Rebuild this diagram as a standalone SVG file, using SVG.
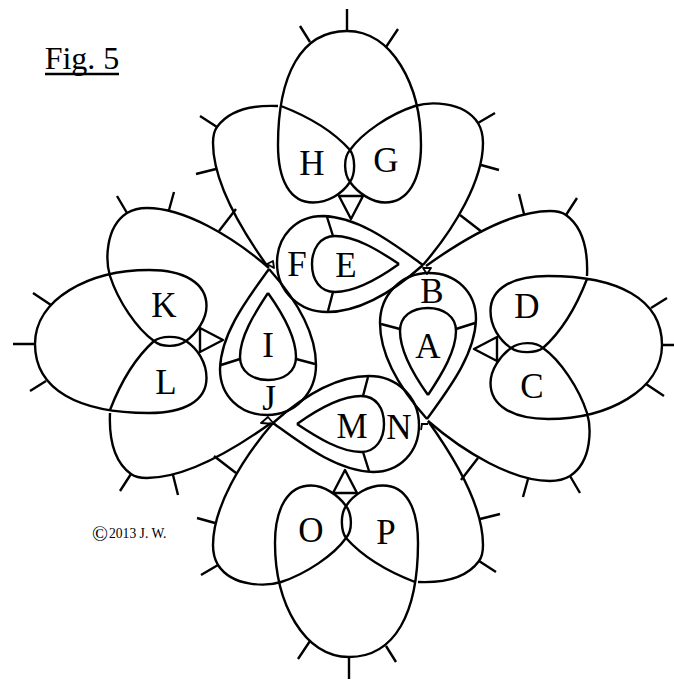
<svg xmlns="http://www.w3.org/2000/svg" width="674" height="680" viewBox="0 0 674 680">
<style>
.l{fill:none;stroke:#000;stroke-width:2.4;stroke-linejoin:round}
text{font-family:"Liberation Serif","Times New Roman",serif;fill:#000;text-anchor:middle;font-size:35px}
</style>
<defs>
<g id="petals" class="l">
<path d="M268,267 C240,228 213,180 213,143 C213,136 214,131 217,127 C230,109 255,105 278,106"/>
<path d="M281,106 C307,116 333,131 350,150 C355,157 356,173 350,182 C342,194 328,202.5 313,202.5 C290,202.5 278,180 278,145 C278,75 301,31 347,31 C392,31 421,85 421,145 C421,180 408,202.5 385,202.5 C372,202.5 358,193 350,182 C344,174 343,158 350,150 C362,133 390,114 415,106 C428,102 463,100 478,123 C481,128 483,135 483,143 C483,180 455,228 423,265"/>
<path d="M347,30V9M310,42L300,26M386,47L398,29M217,127L200,116M216,169L196,174M478,123L495,113M481,165L499,170"/>
</g>
<g id="drop" class="l">
<path d="M423,265 C395,245 360,217 323,216 C296,216 277,236 277,263 C277,292 300,312 327,312 C360,312 395,290 423,265"/>
<path d="M399,264 C378,250 355,236 335,236 C320,236 312,249 312,264 C312,280 320,292 335,292 C355,292 378,279 399,264"/>
<path d="M327,217L333,236M333,292L328,311"/>
</g>
<path id="tri" class="l" d="M339,196H363L351,219Z"/>
<path id="bar" class="l" d="M460,215L482,232"/>
</defs>
<rect width="674" height="680" fill="#fff"/>
<g id="connectors">
<use href="#tri"/>
<use href="#tri" transform="translate(1,2) rotate(90 348 344)"/>
<use href="#tri" transform="translate(0,1) rotate(180 348 344)"/>
<use href="#tri" transform="translate(0,-1) rotate(270 348 344)"/>
<use href="#bar"/>
<use href="#bar" transform="translate(1,2) rotate(90 348 344)"/>
<use href="#bar" transform="rotate(180 348 344)"/>
<use href="#bar" transform="translate(0,-1) rotate(270 348 344)"/>
<path class="l" style="stroke-width:1.8" d="M423,268H431L427,274Z M267,264L273,261L274,268Z M421,424H428M422,424L421,430 M261,423L268,417L274,424Z"/>
</g>
<g id="cluster-top"><use href="#petals"/><text x="312" y="175">H</text><text x="386" y="172">G</text></g>
<g id="cluster-right"><use href="#petals" transform="translate(1,2) rotate(90 348 344)"/><text x="527" y="318">D</text><text x="532" y="398">C</text></g>
<g id="cluster-bottom"><use href="#petals" transform="rotate(180 348 344)"/><text x="311" y="542">O</text><text x="386" y="544">P</text></g>
<g id="cluster-left"><use href="#petals" transform="translate(0,-1) rotate(270 348 344)"/><text x="164" y="317">K</text><text x="166" y="394">L</text></g>
<g id="drop-top"><use href="#drop"/><text x="297" y="276">F</text><text x="346" y="277">E</text></g>
<g id="drop-right"><use href="#drop" transform="rotate(90 348 344)"/><text x="432" y="303">B</text><text x="428" y="358">A</text></g>
<g id="drop-bottom"><use href="#drop" transform="rotate(180 348 344)"/><text x="352" y="438">M</text><text x="399" y="439">N</text></g>
<g id="drop-left"><use href="#drop" transform="rotate(270 348 344)"/><text x="268" y="357">I</text><text x="269" y="410">J</text></g>
<text x="82" y="69" style="font-size:32px">Fig. 5</text>
<path class="l" d="M45,74H119"/>
<text x="92" y="541" style="text-anchor:start;font-size:13.6px"><tspan style="font-size:21px">©</tspan><tspan x="109" y="538">2013 J. W.</tspan></text>
</svg>
